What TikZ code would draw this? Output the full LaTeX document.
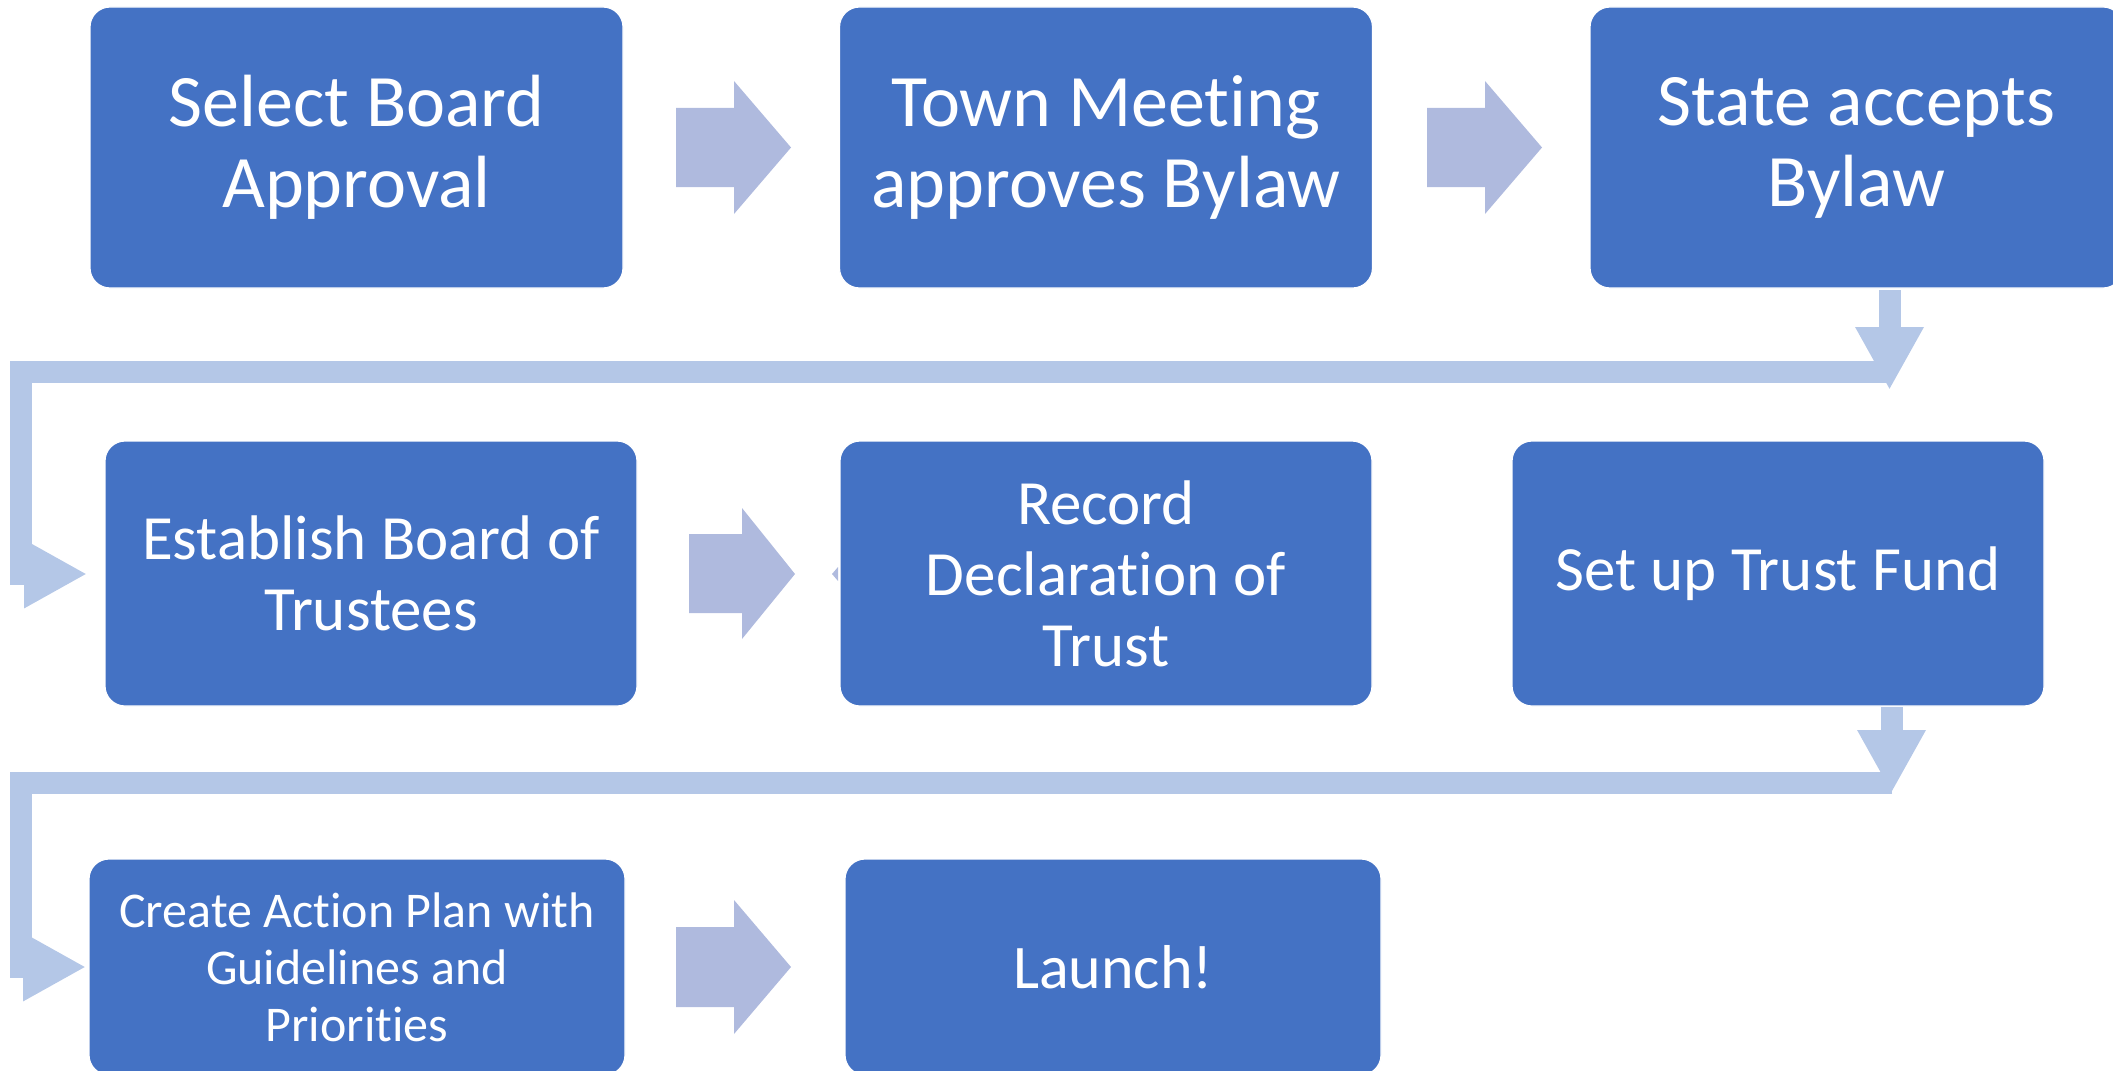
\documentclass[tikz,border=0pt]{standalone}
\usepackage{fontspec}
\setmainfont{Carlito}[Ligatures={NoCommon}]
\usetikzlibrary{arrows.meta}
\definecolor{boxblue}{HTML}{4472C4}
\definecolor{blockarrow}{RGB}{175,186,222}
\definecolor{connblue}{RGB}{180,199,231}
\tikzset{
  box/.style={fill=boxblue, draw=white, line width=0.6pt, rounded corners=10pt,
    text=white, align=center, inner sep=0pt},
  rowA/.style={box, minimum width=266.5pt, minimum height=140.5pt,
    font=\fontsize{37}{40.5}\selectfont},
  rowB/.style={box, minimum width=266pt, minimum height=132.5pt,
    font=\fontsize{31.5}{35.5}\selectfont},
  rowC/.style={box, minimum width=268pt, minimum height=108pt},
  conn/.style={draw=connblue, line width=11pt, line cap=butt, line join=miter,
    -{Triangle[width=32pt,length=31.5pt]}},
  blk/.style={fill=blockarrow}
}
\begin{document}
\begin{tikzpicture}[x=0.5pt,y=-0.5pt]
\useasboundingbox (0,0) rectangle (2113,1070);
% connectors (behind)
\coordinate (c1s) at (1889.5,290);
\coordinate (c1e) at (1889.5,390);
\coordinate (c1a) at (1890,372);
\coordinate (c1b) at (21,372);
\coordinate (c1c) at (21,574);
\coordinate (c1d) at (87,574);
\coordinate (c2s) at (1891.5,707);
\coordinate (c2e) at (1891.5,793);
\coordinate (c2a) at (1892,783);
\coordinate (c2b) at (21,783);
\coordinate (c2c) at (21,967);
\coordinate (c2d) at (86,967);
\draw[conn] (c1a) -- (c1b) -- (c1c) -- (c1d);
\draw[conn] (c1s) -- (c1e);
\draw[conn] (c2a) -- (c2b) -- (c2c) -- (c2d);
\draw[conn] (c2s) -- (c2e);
% row 1
\node[rowA] (b1) at (356.5,147.5) {Select Board\\Approval};
\node[rowA] (b2) at (1106,147.5) {Town Meeting\\approves Bylaw};
\node[rowA] (b3) at (1856.5,147.5) {State accepts\\Bylaw};
% row 2
\node[rowB] (b4) at (371,573.5) {Establish Board of\\Trustees};
\node[rowB] (b5) at (1106,573.5) {Record\\Declaration of\\Trust};
\node[rowB] (b6) at (1778,573.5) {Set up Trust Fund};
% row 3
\node[rowC, font=\fontsize{25}{28.5}\selectfont] (b7) at (357,967) {Create Action Plan with\\Guidelines and\\Priorities};
\node[rowC, font=\fontsize{31}{35}\selectfont] (b8) at (1113,967) {Launch!};
% block arrows
\fill[blk] (676,108) -- (734,108) -- (734,81) -- (791,147.5) -- (734,214) -- (734,187) -- (676,187) -- cycle;
\fill[blk] (1427,108) -- (1485,108) -- (1485,81) -- (1542,147.5) -- (1485,214) -- (1485,187) -- (1427,187) -- cycle;
\fill[blk] (689,534) -- (742,534) -- (742,508) -- (795,574) -- (742,639) -- (742,613) -- (689,613) -- cycle;
\fill[blk] (832,574) -- (838,567) -- (838,581) -- cycle;
\fill[blk] (676,927) -- (734,927) -- (734,900) -- (791,967) -- (734,1034) -- (734,1007) -- (676,1007) -- cycle;
\end{tikzpicture}
\end{document}
